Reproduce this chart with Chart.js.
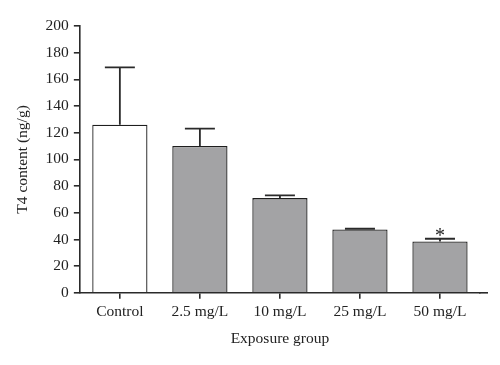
<!DOCTYPE html>
<html>
<head>
<meta charset="utf-8">
<script src="https://cdn.jsdelivr.net/npm/chart.js@4"></script>
<style>
  html, body { margin: 0; padding: 0; background: #fff; }
  #wrap { width: 500px; height: 365px; }
</style>
</head>
<body>
<div id="wrap"><canvas id="c" width="500" height="365"></canvas></div>
<script>
const categories = ["Control", "2.5 mg/L", "10 mg/L", "25 mg/L", "50 mg/L"];
const means = [126, 110, 71, 47.5, 38.5];
const errUpper = [169, 123, 73, 48, 40.5];
const significance = ["", "", "", "", "*"];
const yTicks = [0, 20, 40, 60, 80, 100, 120, 140, 160, 180, 200];

const FONT = "'Liberation Serif', 'DejaVu Serif', serif";
const barFill = ["#ffffff", "#a3a3a5", "#a3a3a5", "#a3a3a5", "#a3a3a5"];

const errorPlugin = {
  id: 'errbars',
  afterDatasetsDraw(chart) {
    const ctx = chart.ctx;
    const meta = chart.getDatasetMeta(0);
    const y = chart.scales.y;
    const x = chart.scales.x;
    ctx.save();
    ctx.strokeStyle = '#2a2a2a';
    ctx.lineWidth = 1.8;
    meta.data.forEach((bar, i) => {
      const cx = bar.x;
      const top = y.getPixelForValue(errUpper[i]);
      const base = y.getPixelForValue(means[i]);
      ctx.beginPath();
      ctx.moveTo(cx, base);
      ctx.lineTo(cx, top);
      ctx.moveTo(cx - 15, top);
      ctx.lineTo(cx + 15, top);
      ctx.stroke();
      if (significance[i]) {
        ctx.fillStyle = '#222';
        ctx.font = "20px " + FONT;
        ctx.textAlign = 'center';
        ctx.textBaseline = 'alphabetic';
        ctx.fillText(significance[i], cx, top + 3);
      }
    });
    // extend x axis line slightly beyond chart area
    ctx.lineWidth = 1.6;
    ctx.beginPath();
    ctx.moveTo(x.right - 1, y.bottom);
    ctx.lineTo(x.right + 8, y.bottom);
    ctx.stroke();
    ctx.restore();
  }
};

new Chart(document.getElementById('c'), {
  type: 'bar',
  data: {
    labels: categories,
    datasets: [{
      data: means,
      backgroundColor: barFill,
      borderColor: '#1e1e1e',
      borderWidth: 1.3,
      borderSkipped: 'bottom',
      barPercentage: 0.69,
      categoryPercentage: 1.0
    }]
  },
  options: {
    responsive: false,
    animation: false,
    devicePixelRatio: 1,
    layout: { padding: { top: 26, right: 20, left: 10, bottom: 17 } },
    plugins: { legend: { display: false }, tooltip: { enabled: false } },
    scales: {
      x: {
        grid: { display: true, offset: false, drawOnChartArea: false, drawTicks: true, tickLength: 6, color: '#2a2a2a', lineWidth: 1.6 },
        border: { display: true, color: '#2a2a2a', width: 1.6 },
        ticks: { color: '#222', font: { family: FONT, size: 15.5 }, padding: 4, maxRotation: 0 },
        title: { display: true, text: 'Exposure group', color: '#222', font: { family: FONT, size: 15.5 }, padding: { top: 4, bottom: 0 } }
      },
      y: {
        min: 0, max: 200,
        afterBuildTicks(axis) { axis.ticks = yTicks.map(v => ({ value: v })); },
        grid: { display: true, drawOnChartArea: false, drawTicks: true, tickLength: 6, color: '#2a2a2a', lineWidth: 1.6 },
        border: { display: true, color: '#2a2a2a', width: 1.6 },
        ticks: { color: '#222', font: { family: FONT, size: 15.5 }, padding: 5 },
        title: { display: true, text: 'T4 content (ng/g)', color: '#222', font: { family: FONT, size: 15.5 }, padding: { top: 4, bottom: 8 } }
      }
    }
  },
  plugins: [errorPlugin]
});
</script>
</body>
</html>
